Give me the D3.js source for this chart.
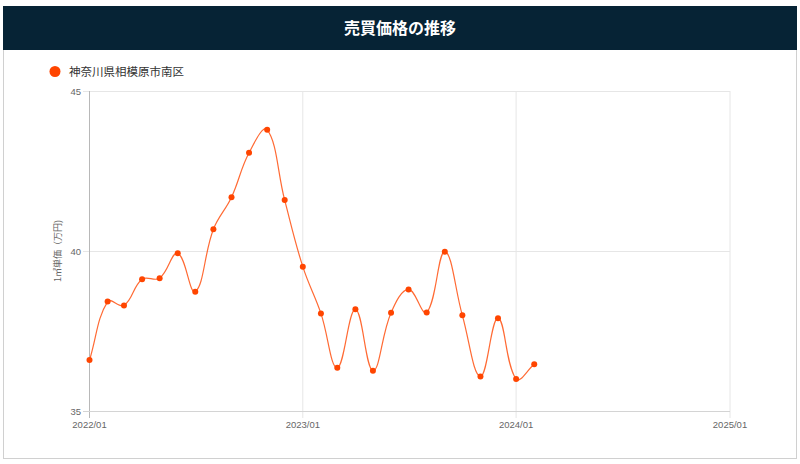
<!DOCTYPE html>
<html>
<head>
<meta charset="utf-8">
<script src="https://cdn.jsdelivr.net/npm/d3@7"></script>
<style>
  html, body { margin: 0; padding: 0; background: #fff; }
  svg { display: block; font-family: "Liberation Sans", Arial, sans-serif; }
</style>
</head>
<body>
<svg width="800" height="464"></svg>
<script>
// monthly unit price (万円 / ㎡), 2022/01 .. 2024/02
const months = [
  "2022-01","2022-02","2022-03","2022-04","2022-05","2022-06","2022-07","2022-08","2022-09","2022-10","2022-11","2022-12",
  "2023-01","2023-02","2023-03","2023-04","2023-05","2023-06","2023-07","2023-08","2023-09","2023-10","2023-11","2023-12",
  "2024-01","2024-02"
];
const prices = [
  36.59, 38.42, 38.30, 39.12, 39.15, 39.93, 38.73, 40.68, 41.68, 43.07, 43.79, 41.59,
  39.51, 38.05, 36.35, 38.18, 36.26, 38.07, 38.80, 38.08, 39.98, 37.99, 36.08, 37.90,
  36.00, 36.46
];
const yTicks = [35, 40, 45];
const xTicks = ["2022-01", "2023-01", "2024-01", "2025-01"];
const seriesName = "神奈川県相模原市南区";
const chartTitle = "売買価格の推移";
const yTitle = "1㎡単価（万円)";

const parseMonth = d3.timeParse("%Y-%m");
const data = months.map((m, i) => ({ date: parseMonth(m), value: prices[i] }));

const svg = d3.select("svg");
const color = "#ff4500";

// card + header
svg.append("rect")
    .attr("x", 3.5).attr("y", 6.5)
    .attr("width", 793).attr("height", 452)
    .attr("fill", "#fff")
    .attr("stroke", "#d0d0d0");
svg.append("rect")
    .attr("x", 3).attr("y", 6)
    .attr("width", 794).attr("height", 44)
    .attr("fill", "#062335");
svg.append("text")
    .attr("x", 400).attr("y", 34)
    .attr("text-anchor", "middle")
    .attr("fill", "#fff")
    .attr("font-size", 16)
    .attr("font-weight", "bold")
    .attr("font-family", "'Noto Sans CJK JP', sans-serif")
    .text(chartTitle);

// legend
svg.append("circle")
    .attr("cx", 55).attr("cy", 71.5).attr("r", 5.5)
    .attr("fill", color);
svg.append("text")
    .attr("x", 69).attr("y", 76)
    .attr("fill", "#333")
    .attr("font-size", 11.5)
    .attr("font-family", "'Noto Sans CJK JP', sans-serif")
    .text(seriesName);

const x = d3.scaleTime()
    .domain([parseMonth("2022-01"), parseMonth("2025-01")])
    .range([89.5, 730]);
const y = d3.scaleLinear()
    .domain([35, 45])
    .range([411, 91]);

const gridColor = "#e6e6e6";

// horizontal grid
svg.append("g")
    .selectAll("line")
    .data(yTicks)
    .join("line")
    .attr("x1", 83).attr("x2", 730)
    .attr("y1", d => y(d) + 0.5).attr("y2", d => y(d) + 0.5)
    .attr("stroke", gridColor);

// vertical grid
svg.append("g")
    .selectAll("line")
    .data(xTicks.map(parseMonth))
    .join("line")
    .attr("x1", d => x(d)).attr("x2", d => x(d))
    .attr("y1", 91).attr("y2", 418)
    .attr("stroke", gridColor);

// axis borders
svg.append("line")
    .attr("x1", 89.5).attr("x2", 89.5)
    .attr("y1", 91).attr("y2", 418)
    .attr("stroke", "#b8b8b8");
svg.append("line")
    .attr("x1", 83).attr("x2", 730)
    .attr("y1", 411.5).attr("y2", 411.5)
    .attr("stroke", "#d4d4d4");

// tick labels
svg.append("g")
    .selectAll("text")
    .data(yTicks)
    .join("text")
    .attr("x", 81).attr("y", d => y(d) + 3.5)
    .attr("text-anchor", "end")
    .attr("fill", "#666")
    .attr("font-size", 9.5)
    .text(d => d);

const fmt = d3.timeFormat("%Y/%m");
svg.append("g")
    .selectAll("text")
    .data(xTicks.map(parseMonth))
    .join("text")
    .attr("x", d => x(d)).attr("y", 428)
    .attr("text-anchor", "middle")
    .attr("fill", "#666")
    .attr("font-size", 9.5)
    .text(d => fmt(d));

svg.append("text")
    .attr("transform", "translate(61,251) rotate(-90)")
    .attr("text-anchor", "middle")
    .attr("fill", "#666")
    .attr("font-size", 9)
    .attr("font-family", "'Noto Sans CJK JP', sans-serif")
    .text(yTitle);

// Chart.js-like spline (tension 0.4)
function SplineCurve(context) { this._context = context; }
SplineCurve.prototype = {
  areaStart() {}, areaEnd() {},
  lineStart() { this._pts = []; },
  point(px, py) { this._pts.push([+px, +py]); },
  lineEnd() {
    const p = this._pts, n = p.length, t = 0.4, ctx = this._context;
    if (!n) return;
    const cps = p.map((cur, i) => {
      const prev = p[i - 1] || cur, next = p[i + 1] || cur;
      const d01 = Math.hypot(cur[0] - prev[0], cur[1] - prev[1]);
      const d12 = Math.hypot(next[0] - cur[0], next[1] - cur[1]);
      let s01 = d01 / (d01 + d12), s12 = d12 / (d01 + d12);
      if (!isFinite(s01)) s01 = 0;
      if (!isFinite(s12)) s12 = 0;
      const fa = t * s01, fb = t * s12;
      return {
        prev: [cur[0] - fa * (next[0] - prev[0]), cur[1] - fa * (next[1] - prev[1])],
        next: [cur[0] + fb * (next[0] - prev[0]), cur[1] + fb * (next[1] - prev[1])]
      };
    });
    ctx.moveTo(p[0][0], p[0][1]);
    for (let i = 0; i < n - 1; i++) {
      ctx.bezierCurveTo(cps[i].next[0], cps[i].next[1], cps[i + 1].prev[0], cps[i + 1].prev[1], p[i + 1][0], p[i + 1][1]);
    }
  }
};
const splineCurve = ctx => new SplineCurve(ctx);

const line = d3.line()
    .x(d => x(d.date))
    .y(d => y(d.value))
    .curve(splineCurve);

svg.append("path")
    .datum(data)
    .attr("d", line)
    .attr("fill", "none")
    .attr("stroke", color)
    .attr("stroke-opacity", 0.8)
    .attr("stroke-width", 1.2);

svg.append("g")
    .selectAll("circle")
    .data(data)
    .join("circle")
    .attr("cx", d => x(d.date))
    .attr("cy", d => y(d.value))
    .attr("r", 3)
    .attr("fill", color);
</script>
</body>
</html>
